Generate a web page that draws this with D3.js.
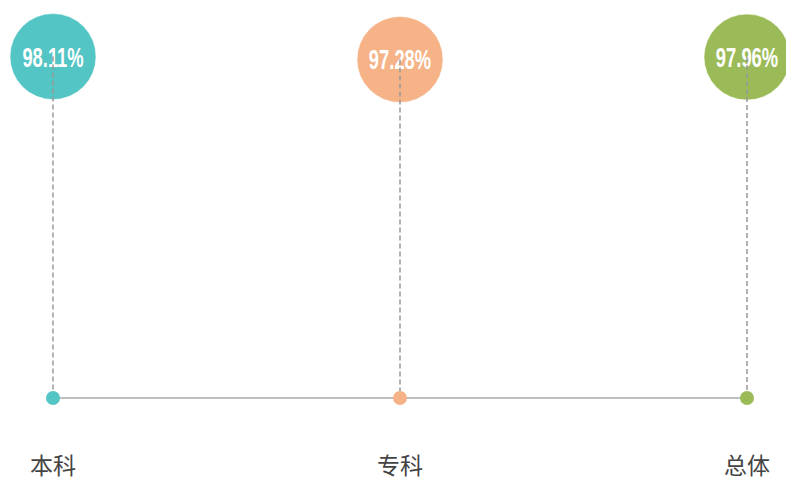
<!DOCTYPE html>
<html><head><meta charset="utf-8">
<script src="https://cdn.jsdelivr.net/npm/d3@7"></script>
<style>body{margin:0;background:#fff}svg{display:block}</style>
</head><body>
<svg id="c" width="786" height="480"></svg>
<script>
const categories = ["本科", "专科", "总体"];
const values = [98.11, 97.28, 97.96];
const colors = ["#53C5C4", "#F5B387", "#9BBB59"];

const svg = d3.select("#c");
const x = d3.scalePoint().domain(categories).range([53, 747]);
const y = d3.scaleLinear().domain([0, 100]).range([398, 50]);
const data = categories.map((c, i) => ({c, v: values[i], col: colors[i]}));

// baseline
svg.append("line").attr("x1", x(categories[0])).attr("x2", x(categories[categories.length-1]))
  .attr("y1", y(0)).attr("y2", y(0)).attr("stroke", "#aaa").attr("stroke-width", 1.5);

const g = svg.selectAll("g.pt").data(data).join("g").attr("class", "pt");
g.append("circle").attr("cx", d => x(d.c)).attr("cy", d => y(d.v)).attr("r", 43)
  .attr("fill", d => d.col).attr("stroke", "#fff").attr("stroke-opacity", 0.5);
g.append("text")
  .attr("transform", d => `translate(${x(d.c)},${y(d.v) + 10}) scale(0.68,1)`)
  .attr("text-anchor", "middle").attr("fill", "#fff")
  .style("font-family", "'Liberation Sans Narrow', 'Liberation Sans', sans-serif")
  .style("font-weight", "bold").style("font-size", "27px")
  .text(d => d.v.toFixed(2) + "%");
g.append("line").attr("x1", d => x(d.c)).attr("x2", d => x(d.c))
  .attr("y1", d => y(d.v)).attr("y2", y(0))
  .attr("stroke", "#999").attr("stroke-width", 1.5).attr("stroke-dasharray", "5,3");
g.append("circle").attr("cx", d => x(d.c)).attr("cy", y(0)).attr("r", 7).attr("fill", d => d.col);
g.append("text").attr("x", d => x(d.c)).attr("y", 474).attr("text-anchor", "middle")
  .attr("fill", "#444").style("font-family", "'Noto Sans CJK SC', sans-serif")
  .style("font-size", "23px").text(d => d.c);
</script>
</body></html>
